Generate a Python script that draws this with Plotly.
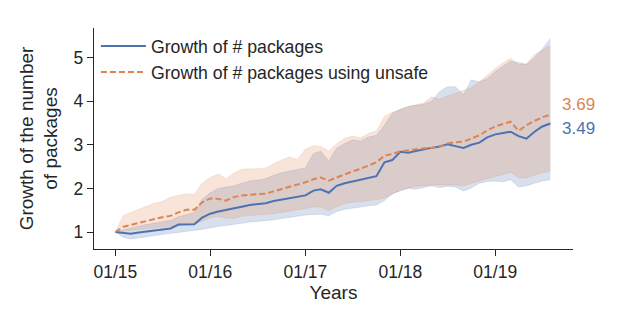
import pandas as pd
import plotly.graph_objects as go

dates = pd.date_range("2015-01-01", periods=56, freq="MS")

pkg_mean = [1.00, 0.97, 0.96, 0.99, 1.01, 1.03, 1.05, 1.08, 1.17, 1.18,
            1.18, 1.33, 1.42, 1.47, 1.50, 1.54, 1.58, 1.62, 1.64, 1.66,
            1.71, 1.74, 1.78, 1.81, 1.84, 1.95, 1.98, 1.90, 2.06, 2.12,
            2.16, 2.20, 2.24, 2.28, 2.60, 2.65, 2.84, 2.82, 2.86, 2.90,
            2.93, 2.96, 3.01, 2.97, 2.93, 3.00, 3.05, 3.17, 3.24, 3.27,
            3.30, 3.20, 3.14, 3.30, 3.42, 3.49]
pkg_upper = [1.00, 1.05, 1.10, 1.14, 1.17, 1.20, 1.23, 1.27, 1.35, 1.40,
             1.45, 1.75, 1.90, 2.00, 2.03, 2.06, 2.12, 2.17, 2.19, 2.22,
             2.30, 2.36, 2.40, 2.44, 2.47, 2.80, 2.85, 2.63, 2.92, 3.03,
             3.11, 3.09, 3.18, 3.22, 3.45, 3.72, 3.82, 3.88, 3.91, 3.93,
             4.00, 4.22, 4.33, 4.33, 4.15, 4.49, 4.44, 4.52, 4.68, 4.80,
             4.92, 4.89, 4.84, 5.00, 5.20, 5.44]
pkg_lower = [1.00, 0.88, 0.84, 0.86, 0.89, 0.92, 0.95, 0.97, 0.99, 1.02,
             1.04, 1.06, 1.10, 1.13, 1.15, 1.17, 1.20, 1.23, 1.24, 1.26,
             1.28, 1.31, 1.34, 1.37, 1.39, 1.40, 1.41, 1.37, 1.47, 1.52,
             1.55, 1.57, 1.60, 1.62, 1.72, 1.88, 1.95, 2.01, 1.98, 2.02,
             2.06, 2.02, 2.05, 2.03, 1.94, 2.01, 2.12, 2.16, 2.17, 2.15,
             2.20, 2.03, 2.06, 2.12, 2.17, 2.20]

unsafe_mean = [1.00, 1.12, 1.16, 1.21, 1.26, 1.30, 1.34, 1.37, 1.45, 1.51,
               1.51, 1.68, 1.77, 1.76, 1.72, 1.80, 1.84, 1.86, 1.87, 1.88,
               1.93, 1.99, 2.03, 2.08, 2.14, 2.21, 2.25, 2.18, 2.25, 2.33,
               2.39, 2.45, 2.52, 2.60, 2.75, 2.79, 2.85, 2.88, 2.90, 2.92,
               2.93, 2.96, 3.03, 3.06, 3.07, 3.14, 3.22, 3.33, 3.42, 3.48,
               3.53, 3.32, 3.45, 3.55, 3.63, 3.69]
unsafe_upper = [1.00, 1.38, 1.45, 1.52, 1.58, 1.66, 1.70, 1.80, 1.84, 1.88,
                1.86, 2.12, 2.25, 2.33, 2.22, 2.35, 2.44, 2.44, 2.45, 2.47,
                2.57, 2.65, 2.72, 2.66, 2.90, 2.98, 2.96, 2.86, 3.02, 3.15,
                3.20, 3.16, 3.26, 3.32, 3.65, 3.75, 3.80, 3.88, 3.92, 3.96,
                4.10, 4.05, 4.12, 4.18, 4.24, 4.31, 4.45, 4.60, 4.75, 4.88,
                4.98, 4.84, 4.86, 5.07, 5.18, 5.28]
unsafe_lower = [1.00, 1.02, 1.04, 1.06, 1.08, 1.10, 1.12, 1.14, 1.15, 1.17,
                1.19, 1.25, 1.32, 1.36, 1.32, 1.31, 1.36, 1.38, 1.39, 1.40,
                1.42, 1.45, 1.48, 1.51, 1.55, 1.57, 1.58, 1.49, 1.58, 1.65,
                1.68, 1.70, 1.72, 1.74, 1.78, 1.86, 1.96, 2.00, 2.05, 2.06,
                2.08, 2.08, 2.08, 2.08, 2.06, 2.12, 2.17, 2.22, 2.27, 2.31,
                2.37, 2.24, 2.24, 2.30, 2.36, 2.40]

tick_vals = ["2015-01-01", "2016-01-01", "2017-01-01", "2018-01-01", "2019-01-01"]
tick_text = ["01/15", "01/16", "01/17", "01/18", "01/19"]
y_ticks = [1, 2, 3, 4, 5]

BLUE = "#4C72B0"
ORANGE = "#DD8452"
FONT = "Liberation Sans, Arial, sans-serif"
AXC = "#262626"

fig = go.Figure()

def band(upper, lower, fillc, edgec):
    fig.add_trace(go.Scatter(x=dates, y=upper, mode="lines", line=dict(width=0.6, color=edgec),
                             showlegend=False, hoverinfo="skip"))
    fig.add_trace(go.Scatter(x=dates, y=lower, mode="lines", line=dict(width=0.6, color=edgec),
                             fill="tonexty", fillcolor=fillc, showlegend=False, hoverinfo="skip"))

band(pkg_upper, pkg_lower, "rgba(76,114,176,0.22)", "rgba(76,114,176,0.28)")
band(unsafe_upper, unsafe_lower, "rgba(221,132,82,0.22)", "rgba(221,132,82,0.28)")

fig.add_trace(go.Scatter(x=dates, y=pkg_mean, mode="lines", name="Growth of # packages",
                         line=dict(color=BLUE, width=2)))
fig.add_trace(go.Scatter(x=dates, y=unsafe_mean, mode="lines", name="Growth of # packages using unsafe",
                         line=dict(color=ORANGE, width=2, dash="6px,3px")))

fig.add_annotation(x=dates[-1], y=unsafe_mean[-1], text=f"{unsafe_mean[-1]:.2f}", showarrow=False,
                   xanchor="left", xshift=10, yshift=10, font=dict(color=ORANGE, size=17, family=FONT))
fig.add_annotation(x=dates[-1], y=pkg_mean[-1], text=f"{pkg_mean[-1]:.2f}", showarrow=False,
                   xanchor="left", xshift=10, yshift=-5, font=dict(color=BLUE, size=17, family=FONT))

fig.update_layout(
    width=623, height=312,
    margin=dict(l=86, r=58, t=20, b=71, autoexpand=False),
    paper_bgcolor="white", plot_bgcolor="white",
    font=dict(family=FONT, size=17, color=AXC),
    showlegend=True,
    legend=dict(x=0.004, y=1.0, xanchor="left", yanchor="top", bgcolor="rgba(0,0,0,0)",
                traceorder="normal",
                font=dict(size=17.7, color=AXC), itemwidth=45, tracegroupgap=0),
    xaxis=dict(
        type="date", range=["2014-10-11", "2019-10-27"],
        tickvals=tick_vals, ticktext=tick_text, automargin=False,
        showline=True, linecolor=AXC, linewidth=1.3,
        ticks="outside", ticklen=6, tickwidth=1.3, tickcolor=AXC,
        showgrid=False, zeroline=False,
        tickfont=dict(size=17.5), ticklabelstandoff=1,
        title=dict(text="Years", font=dict(size=19), standoff=4),
    ),
    yaxis=dict(
        range=[0.61, 5.68],
        tickvals=y_ticks, automargin=False,
        showline=True, linecolor=AXC, linewidth=1.3,
        ticks="outside", ticklen=6, tickwidth=1.3, tickcolor=AXC,
        showgrid=False, zeroline=False,
        tickfont=dict(size=17.5),
        title=dict(text="Growth of the number<br>of packages", font=dict(size=19), standoff=10),
    ),
)

fig.write_html("out.html")
